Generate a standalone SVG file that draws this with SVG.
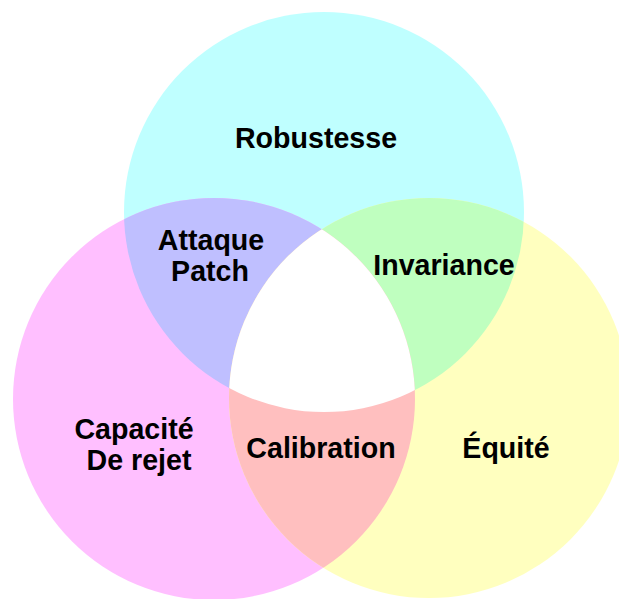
<svg xmlns="http://www.w3.org/2000/svg" width="619" height="599" viewBox="0 0 619 599">
<style>
.lbl{font-family:"Liberation Sans",Arial,sans-serif;font-weight:bold;font-size:28.6px;fill:#000;text-anchor:middle}
</style>
<defs>
<clipPath id="cT"><circle cx="324" cy="212" r="200"/></clipPath>
<clipPath id="cL"><circle cx="214" cy="399" r="201"/></clipPath>
<clipPath id="cR"><circle cx="429" cy="398" r="200"/></clipPath>
</defs>
<rect width="619" height="599" fill="#fff"/>
<g id="robustesse">
<circle cx="324" cy="212" r="200" fill="#bfffff"/>
</g>
<g id="capacite">
<circle cx="214" cy="399" r="201" fill="#ffbfff"/>
</g>
<g id="equite">
<circle cx="429" cy="398" r="200" fill="#ffffbf"/>
</g>
<g id="attaque-patch">
<circle cx="324" cy="212" r="200" fill="#bfbfff" clip-path="url(#cL)"/>
</g>
<g id="invariance">
<circle cx="324" cy="212" r="200" fill="#bfffbf" clip-path="url(#cR)"/>
</g>
<g id="calibration">
<circle cx="214" cy="399" r="201" fill="#ffbfbf" clip-path="url(#cR)"/>
</g>
<g id="centre" clip-path="url(#cT)">
<circle cx="214" cy="399" r="201" fill="#ffffff" clip-path="url(#cR)"/>
</g>
<g id="labels">
<text class="lbl" x="316" y="148">Robustesse</text>
<text class="lbl" x="211" y="250">Attaque</text>
<text class="lbl" x="210" y="281">Patch</text>
<text class="lbl" x="444" y="275">Invariance</text>
<text class="lbl" x="134" y="439">Capacité</text>
<text class="lbl" x="139" y="470">De rejet</text>
<text class="lbl" x="321" y="458">Calibration</text>
<text class="lbl" x="506" y="458">Équité</text>
</g>
</svg>
